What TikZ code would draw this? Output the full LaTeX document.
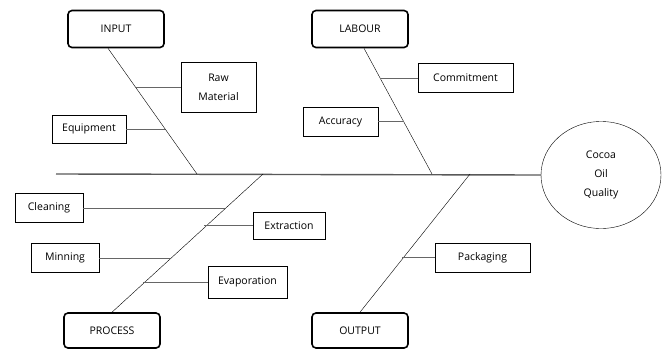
\documentclass[tikz,border=0pt]{standalone}
\usepackage{fontspec}
\setmainfont{Open Sans}
\usetikzlibrary{shapes.geometric,positioning}

\begin{document}
\begin{tikzpicture}[x=1pt,y=-1pt,font=\fontsize{10.5}{19}\selectfont,
   cause/.style={draw,line width=1.6pt,rounded corners=4pt,minimum width=96pt,minimum height=37pt},
   item/.style={draw,thin,minimum height=29pt,inner sep=2pt,align=center},
   bone/.style={draw,thin,black},
   rib/.style={draw,gray!80!black,thin}]
   \useasboundingbox (0,0) rectangle (663,351);
   % heads of the bones
   \node[cause] (IN)  at (116,29)    {INPUT};
   \node[cause] (LAB) at (360,29)    {LABOUR};
   \node[cause,minimum height=35pt] (PRO) at (112,330.5) {PROCESS};
   \node[cause,minimum height=35pt] (OUT) at (360,330.5) {OUTPUT};
   \node[ellipse,draw,minimum width=120pt,minimum height=107pt,align=center] (Q) at (601,175) {Cocoa\\Oil\\Quality};
   % sub causes
   \node[item,minimum width=75pt,minimum height=50pt] (RM) at (218.5,87) {Raw\\Material};
   \node[item,minimum width=74pt,minimum height=28pt] (EQ) at (89,129) {Equipment};
   \node[item,minimum width=95pt] (COM) at (465.5,78) {Commitment};
   \node[item,minimum width=75pt] (ACC) at (340.5,121.5) {Accuracy};
   \node[item,minimum width=68pt] (CLN) at (49,208) {Cleaning};
   \node[item,minimum width=72pt,minimum height=27pt] (EXT) at (289,225.5) {Extraction};
   \node[item,minimum width=68pt] (MIN) at (65,258) {Minning};
   \node[item,minimum width=79pt,minimum height=32pt] (EVA) at (247.5,282) {Evaporation};
   \node[item,minimum width=95pt] (PAC) at (482.5,257.5) {Packaging};
   % spine
   \coordinate (S) at (56,174);
   \coordinate (Jin)  at (197,174);
   \coordinate (Jpro) at (263,174);
   \coordinate (Jlab) at (432,174);
   \coordinate (Jout) at (470,174);
   \path[draw,gray!70!black,line width=1.4pt] (S) -- (Q.west);
   % bones
   \path[bone] (IN.south) ++(-8,0) coordinate (Tin) (Tin) -- (Jin);
   \path[bone] (LAB.south) ++(4,0) coordinate (Tlab) (Tlab) -- (Jlab);
   \path[bone] (Jpro) -- (PRO.north);
   \path[bone] (Jout) -- (OUT.north);
   % ribs
   \coordinate (rRM)  at (134.8,87);
   \coordinate (rEQ)  at (165.2,129);
   \coordinate (rCOM) at (380.7,78);
   \coordinate (rACC) at (404,121.5);
   \coordinate (rCLN) at (225.3,208);
   \coordinate (rEXT) at (204.2,225.5);
   \coordinate (rMIN) at (169.8,258);
   \coordinate (rEVA) at (143.2,282);
   \coordinate (rPAC) at (402,257.5);
   \path[rib] (RM.west) -- (rRM)
      (EQ.east) -- (rEQ)
      (COM.west) -- (rCOM)
      (ACC.east) -- (rACC)
      (CLN.east) -- (rCLN)
      (EXT.west) -- (rEXT)
      (MIN.east) -- (rMIN)
      (EVA.west) -- (rEVA)
      (PAC.west) -- (rPAC);
\end{tikzpicture}
\end{document}
